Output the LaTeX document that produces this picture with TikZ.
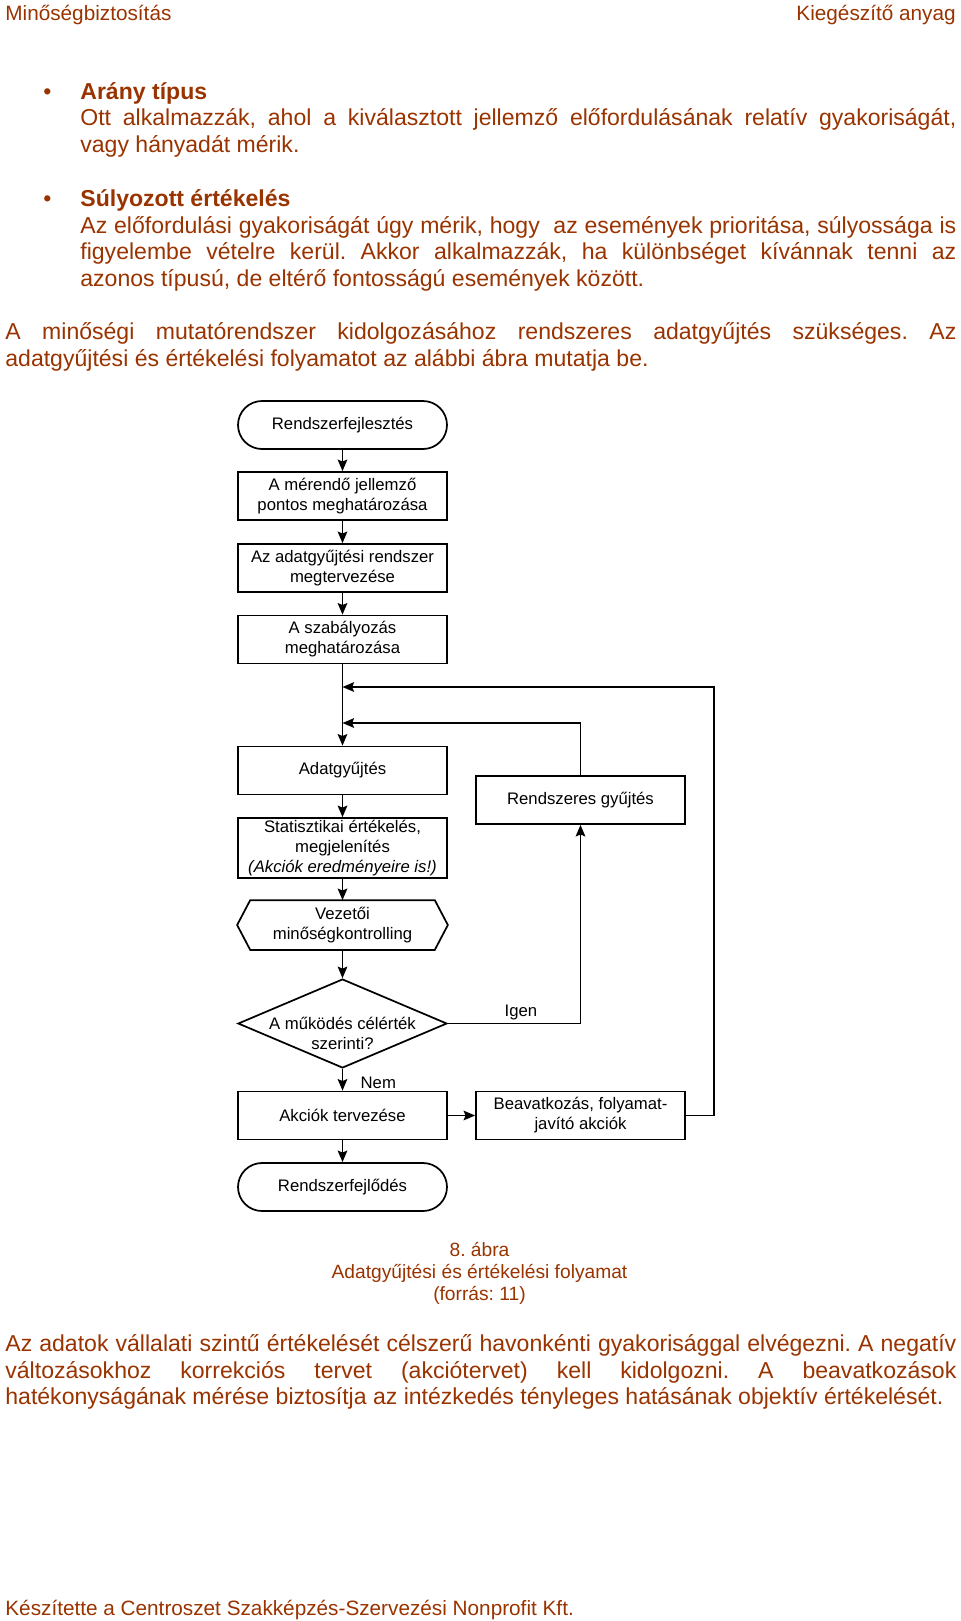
\documentclass[tikz,border=0pt]{standalone}
\usepackage{fontspec}
\setmainfont{Liberation Sans}
\usetikzlibrary{arrows.meta,shapes.geometric}
\definecolor{barna}{RGB}{153,51,0}
\newcommand{\kitolt}[2]{\makebox[#1][s]{#2}}
\frenchspacing

\begin{document}
\begin{tikzpicture}[x=0.5206pt,y=-0.5206pt]
    \tikzset{
        szoveg/.style = {font=\fontsize{12}{13.8}\selectfont, text=barna, inner sep=0pt, anchor=base west},
        fejlec/.style = {font=\fontsize{10.8}{12.4}\selectfont, text=barna, inner sep=0pt},
        felirat/.style = {font=\fontsize{10}{11.5}\selectfont, text=barna, inner sep=0pt, anchor=base},
        doboz/.style = {draw, line width=0.9pt, minimum width=108.8pt, minimum height=25pt,
            inner sep=0pt, align=center, font=\fontsize{8.7}{10.4}\selectfont},
        vegpont/.style = {doboz, rounded corners=12.5pt},
        nyil/.style = {line width=0.9pt, -{Stealth[length=6pt,width=5pt,inset=1pt]}}}
    \useasboundingbox (0,0) rectangle (960,1621);
    % fejlec es lablec
    \node[fejlec, anchor=base west] (fej1) at (5,20.5) {Minőségbiztosítás};
    \node[fejlec, anchor=base east] (fej2) at (956,20.5) {Kiegészítő anyag};
    \node[fejlec, anchor=base west] (lab) at (5,1615) {Készítette a Centroszet Szakképzés-Szervezési Nonprofit Kft.};
    % szoveg
    \node[szoveg, anchor=base] (pont1) at (47.5,99) {\textbullet};
    \node[szoveg] (sor1) at (80,99) {\bfseries Arány típus};
    \node[szoveg] (sor2) at (80,125.5) {\kitolt{456pt}{Ott alkalmazzák, ahol a kiválasztott jellemző előfordulásának relatív gyakoriságát,}};
    \node[szoveg] (sor3) at (80,152) {vagy hányadát mérik.};
    \node[szoveg, anchor=base] (pont2) at (47.5,206.5) {\textbullet};
    \node[szoveg] (sor4) at (80,206.5) {\bfseries Súlyozott értékelés};
    \node[szoveg] (sor5) at (80,233) {\kitolt{456pt}{Az előfordulási gyakoriságát úgy mérik, hogy\ \ az események prioritása, súlyossága is}};
    \node[szoveg] (sor6) at (80,259.5) {\kitolt{456pt}{figyelembe vételre kerül. Akkor alkalmazzák, ha különbséget kívánnak tenni az}};
    \node[szoveg] (sor7) at (80,286) {azonos típusú, de eltérő fontosságú események között.};
    \node[szoveg] (sor8) at (5,339.5) {\kitolt{495.1pt}{A minőségi mutatórendszer kidolgozásához rendszeres adatgyűjtés szükséges. Az}};
    \node[szoveg] (sor9) at (5,366) {adatgyűjtési és értékelési folyamatot az alábbi ábra mutatja be.};
    \node[felirat] (abra1) at (479.5,1256) {8. ábra};
    \node[felirat] (abra2) at (479.5,1278) {Adatgyűjtési és értékelési folyamat};
    \node[felirat] (abra3) at (479.5,1300) {(forrás: 11)};
    \node[szoveg] (bek1) at (5,1351.5) {\kitolt{495.1pt}{Az adatok vállalati szintű értékelését célszerű havonkénti gyakorisággal elvégezni. A negatív}};
    \node[szoveg] (bek2) at (5,1378) {\kitolt{495.1pt}{változásokhoz korrekciós tervet (akciótervet) kell kidolgozni. A beavatkozások}};
    \node[szoveg] (bek3) at (5,1404.5) {hatékonyságának mérése biztosítja az intézkedés tényleges hatásának objektív értékelését.};
    % folyamatabra
    \node[vegpont] (kezd) at (342.5,425) {Rendszerfejlesztés};
    \node[doboz] (jell) at (342.5,496) {A mérendő jellemző\\pontos meghatározása};
    \node[doboz] (terv) at (342.5,568) {Az adatgyűjtési rendszer\\megtervezése};
    \node[doboz] (szab) at (342.5,639.5) {A szabályozás\\meghatározása};
    \node[doboz] (adat) at (342.5,770.5) {Adatgyűjtés};
    \node[doboz, minimum height=31.2pt] (stat) at (342.5,848) {Statisztikai értékelés,\\megjelenítés\\\itshape(Akciók eredményeire is!)};
    \node[doboz, draw=none] (hatszog) at (342.5,925) {Vezetői\\minőségkontrolling};
    \draw[line width=0.9pt] (hatszog.west) -- ([xshift=6.8pt]hatszog.north west) -- ([xshift=-6.8pt]hatszog.north east)
        -- (hatszog.east) -- ([xshift=-6.8pt]hatszog.south east) -- ([xshift=6.8pt]hatszog.south west) -- cycle;
    \node[diamond, draw, line width=0.9pt, aspect=1, minimum width=108.8pt, minimum height=46.3pt, inner sep=0pt] (dont) at (342.5,1023.5) {};
    \node[align=center, inner sep=0pt, font=\fontsize{8.7}{10.4}\selectfont] (donttxt) at (342.5,1033) {A működés célérték\\szerinti?};
    \node[doboz] (akc) at (342.5,1115.5) {Akciók tervezése};
    \node[vegpont] (vege) at (342.5,1187) {Rendszerfejlődés};
    \node[doboz] (rendsz) at (580.5,800) {Rendszeres gyűjtés};
    \node[doboz] (beav) at (580.5,1115.5) {Beavatkozás, folyamat-\\javító akciók};
    \node[inner sep=0pt, anchor=base, font=\fontsize{8.7}{10.4}\selectfont] (igen) at (521,1016.5) {Igen};
    \node[inner sep=0pt, anchor=base, font=\fontsize{8.7}{10.4}\selectfont] (nem) at (378.3,1088) {Nem};
    \coordinate (j1) at (342.5,687);
    \coordinate (j2) at (342.5,723);
    \coordinate (k1) at (714,687);
    \draw[nyil] (kezd) -- (jell);
    \draw[nyil] (jell) -- (terv);
    \draw[nyil] (terv) -- (szab);
    \draw[nyil] (szab) -- (adat);
    \draw[nyil] (adat) -- (stat);
    \draw[nyil] (stat) -- (hatszog);
    \draw[nyil] (hatszog) -- (dont);
    \draw[nyil] (dont) -- (akc);
    \draw[nyil] (akc) -- (vege);
    \draw[nyil] (akc) -- (beav);
    \draw[nyil] (dont.east) -| (rendsz.south);
    \draw[nyil] (rendsz.north) |- (j2);
    \draw[nyil] (beav.east) -| (k1) -- (j1);
\end{tikzpicture}
\end{document}
